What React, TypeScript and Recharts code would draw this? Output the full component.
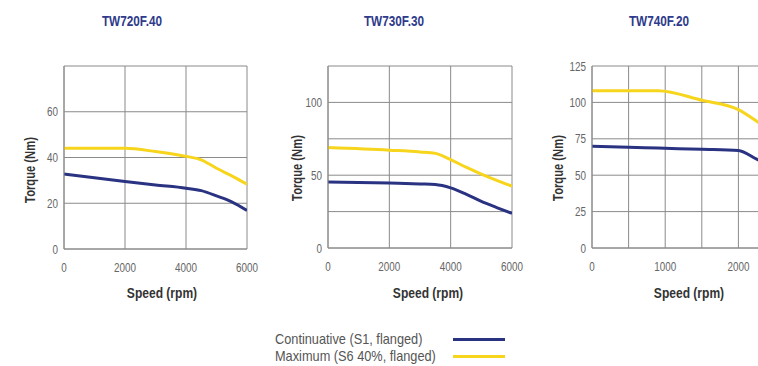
import React from 'react';
import { LineChart, Line, XAxis, YAxis, CartesianGrid } from 'recharts';

// ---- data ----
const titles = ['TW720F.40', 'TW730F.30', 'TW740F.20'];
const legendLabels = ['Continuative (S1, flanged)', 'Maximum (S6 40%, flanged)'];

const speed1 = [0, 2000, 3000, 4000, 4500, 5000, 5500, 6000];
const cont1 = [32.8, 29.5, 28.0, 26.6, 25.5, 23.2, 20.6, 16.8];
const max1 = [44, 44, 42.6, 40.5, 39, 35.3, 32, 28.3];

const speed2 = [0, 2000, 3000, 3500, 4000, 4500, 5000, 5500, 6000];
const cont2 = [45.4, 44.6, 44.0, 43.6, 41.3, 37.0, 32.0, 27.8, 23.8];
const max2 = [69, 67.2, 66, 65, 60.7, 55.5, 50.8, 46.5, 42.5];

const speed3 = [0, 500, 900, 1500, 2000, 2250, 2500];
const cont3 = [69.8, 69.2, 68.6, 67.8, 67, 61, 55];
const max3 = [108, 108, 108, 101.5, 95, 87, 78];

const xTicks1 = [0, 2000, 4000, 6000];
const yTicks1 = [0, 20, 40, 60, 80];
const yLabels1 = [0, 20, 40, 60];

const xTicks2 = [0, 2000, 4000, 6000];
const yTicks2 = [0, 25, 50, 75, 100, 125];
const yLabels2 = [0, 50, 100];

const xTicks3 = [0, 500, 1000, 1500, 2000, 2500];
const xLabels3 = [0, 1000, 2000];
const yTicks3 = [0, 25, 50, 75, 100, 125];
const yLabels3 = [0, 25, 50, 75, 100, 125];

const build = (s: number[], c: number[], m: number[]) =>
  s.map((v, i) => ({ rpm: v, cont: c[i], max: m[i] }));

const BLUE = '#2a3282';
const YELLOW = '#f7d51d';
const GRID = '#8a8a8a';
const FONT = "'Liberation Sans', Arial, sans-serif";
const TICK_SCALE = 0.76;

function makeTick(axis: 'x' | 'y', labels: number[]) {
  return (props: any) => {
    const { x, y, payload } = props;
    const v = payload?.value;
    if (!labels.includes(v)) return <g />;
    if (axis === 'x') {
      return (
        <g transform={`translate(${x},${y})`}>
          <text
            x={0}
            y={0}
            dy="0.71em"
            textAnchor="middle"
            fill="#666"
            fontSize={13}
            fontFamily={FONT}
            transform={`scale(${TICK_SCALE},1)`}
          >
            {String(v)}
          </text>
        </g>
      );
    }
    return (
      <g transform={`translate(${x},${y})`}>
        <text
          x={0}
          y={0}
          dy="0.355em"
          textAnchor="end"
          fill="#666"
          fontSize={13}
          fontFamily={FONT}
          transform={`scale(${TICK_SCALE},1)`}
        >
          {String(v)}
        </text>
      </g>
    );
  };
}

type PanelProps = {
  left: number;
  yAxisWidth: number;
  width: number;
  xAxisHeight: number;
  data: any[];
  xDomain: [number, number];
  xTicks: number[];
  xLabels: number[];
  yDomain: [number, number];
  yTicks: number[];
  yLabels: number[];
};

function Panel(p: PanelProps) {
  return (
    <div style={{ position: 'absolute', left: p.left, top: 0 }}>
      <LineChart
        width={p.width}
        height={310}
        data={p.data}
        margin={{ top: 66, right: 16, bottom: 0, left: 0 }}
      >
        <CartesianGrid stroke={GRID} strokeWidth={1} />
        <XAxis
          dataKey="rpm"
          type="number"
          domain={p.xDomain}
          ticks={p.xTicks}
          interval={0}
          height={p.xAxisHeight}
          tickSize={0}
          tickMargin={14}
          tickLine={false}
          axisLine={{ stroke: GRID }}
          tick={makeTick('x', p.xLabels)}
          allowDataOverflow
        />
        <YAxis
          type="number"
          domain={p.yDomain}
          ticks={p.yTicks}
          interval={0}
          width={p.yAxisWidth}
          tickSize={0}
          tickMargin={6}
          tickLine={false}
          axisLine={{ stroke: GRID }}
          tick={makeTick('y', p.yLabels)}
          allowDataOverflow
        />
        <Line dataKey="max" type="monotone" stroke={YELLOW} strokeWidth={3} dot={false} isAnimationActive={false} />
        <Line dataKey="cont" type="monotone" stroke={BLUE} strokeWidth={3} dot={false} isAnimationActive={false} />
      </LineChart>
    </div>
  );
}

const titleStyle = (cx: number): React.CSSProperties => ({
  position: 'absolute',
  left: cx - 60,
  width: 120,
  top: 12,
  textAlign: 'center',
  fontFamily: FONT,
  fontWeight: 'bold',
  fontSize: 14,
  color: '#2e3a8c',
  lineHeight: '18px',
  transform: 'scaleX(0.84)',
  transformOrigin: 'center',
});

const torqueStyle = (cx: number, cy: number): React.CSSProperties => ({
  position: 'absolute',
  left: cx - 50,
  top: cy - 9,
  width: 100,
  height: 18,
  lineHeight: '18px',
  textAlign: 'center',
  transform: 'rotate(-90deg) scaleX(0.8)',
  transformOrigin: 'center',
  fontFamily: FONT,
  fontWeight: 'bold',
  fontSize: 14,
  color: '#333',
});

const speedStyle = (cx: number): React.CSSProperties => ({
  position: 'absolute',
  left: cx - 50,
  top: 284,
  width: 100,
  lineHeight: '18px',
  textAlign: 'center',
  fontFamily: FONT,
  fontWeight: 'bold',
  fontSize: 14,
  color: '#333',
  transform: 'scaleX(0.86)',
  transformOrigin: 'center',
});

const legendText = (top: number): React.CSSProperties => ({
  position: 'absolute',
  left: 275,
  top,
  lineHeight: '18px',
  fontFamily: FONT,
  fontSize: 15,
  color: '#555',
  whiteSpace: 'nowrap',
  transform: 'scaleX(0.85)',
  transformOrigin: 'left center',
});

const legendLine = (top: number, color: string): React.CSSProperties => ({
  position: 'absolute',
  left: 453,
  top,
  width: 52,
  height: 3,
  background: color,
});

export default function App() {
  return (
    <div
      style={{
        position: 'absolute',
        left: 0,
        top: 0,
        width: 758,
        height: 366,
        overflow: 'hidden',
        background: '#fff',
      }}
    >
      <Panel
        left={0}
        yAxisWidth={64}
        width={263}
        xAxisHeight={61}
        data={build(speed1, cont1, max1)}
        xDomain={[0, 6000]}
        xTicks={xTicks1}
        xLabels={xTicks1}
        yDomain={[0, 80]}
        yTicks={yTicks1}
        yLabels={yLabels1}
      />
      <Panel
        left={260}
        yAxisWidth={68}
        width={268}
        xAxisHeight={62}
        data={build(speed2, cont2, max2)}
        xDomain={[0, 6000]}
        xTicks={xTicks2}
        xLabels={xTicks2}
        yDomain={[0, 125]}
        yTicks={yTicks2}
        yLabels={yLabels2}
      />
      <Panel
        left={530}
        yAxisWidth={62}
        width={261}
        xAxisHeight={62}
        data={build(speed3, cont3, max3)}
        xDomain={[0, 2500]}
        xTicks={xTicks3}
        xLabels={xLabels3}
        yDomain={[0, 125]}
        yTicks={yTicks3}
        yLabels={yLabels3}
      />

      <div style={titleStyle(132)}>{titles[0]}</div>
      <div style={titleStyle(394)}>{titles[1]}</div>
      <div style={titleStyle(659)}>{titles[2]}</div>

      <div style={torqueStyle(30, 170)}>Torque (Nm)</div>
      <div style={torqueStyle(297, 168)}>Torque (Nm)</div>
      <div style={torqueStyle(558, 168)}>Torque (Nm)</div>

      <div style={speedStyle(162)}>Speed (rpm)</div>
      <div style={speedStyle(428)}>Speed (rpm)</div>
      <div style={speedStyle(689)}>Speed (rpm)</div>

      <div style={legendText(330)}>{legendLabels[0]}</div>
      <div style={legendLine(338, BLUE)} />
      <div style={legendText(347)}>{legendLabels[1]}</div>
      <div style={legendLine(355, YELLOW)} />
    </div>
  );
}
